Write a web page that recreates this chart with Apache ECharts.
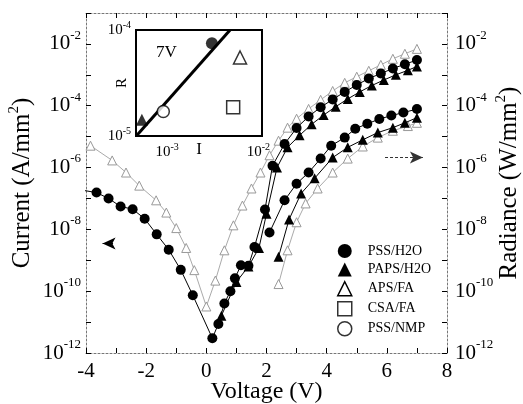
<!DOCTYPE html>
<html><head><meta charset="utf-8">
<script src="https://cdn.jsdelivr.net/npm/echarts@6/dist/echarts.min.js"></script>
<style>html,body{margin:0;padding:0;background:#fff}#c{width:523px;height:404px}</style>
</head><body><div id="c"></div>
<script>
const F = "'Liberation Serif', 'Times New Roman', serif";

// Current (A/mm^2), left axis
const pssCurV  = [-4.05,-3.65,-3.25,-2.85,-2.45,-2.05,-1.65,-1.25,-0.85,-0.45,0.2,0.4,0.6,0.8,0.95,1.15,1.4,1.6,1.95,2.2,2.6,3.0,3.4,3.8,4.2,4.6,5.0,5.4,5.8,6.2,6.6,7.0];
const pssCurJ  = [1.8e-7,1.55e-7,1.0e-7,5.5e-8,4.5e-8,2.2e-8,6.9e-9,2.2e-9,4.9e-10,7.4e-11,3.0e-12,8.7e-12,4.0e-11,1.0e-10,2.6e-10,6.9e-10,6.6e-10,2.7e-9,4.4e-8,1.15e-6,5.8e-6,1.9e-5,4.5e-5,8.9e-5,1.6e-4,2.8e-4,4.7e-4,7.6e-4,1.1e-3,1.6e-3,2.2e-3,3.0e-3];
const papsCurV = [0.5,1.0,1.4,1.75,2.0,2.35,2.7,3.1,3.5,3.9,4.3,4.7,5.1,5.5,5.9,6.3,6.7,7.0];
const papsCurJ = [1.6e-11,2.0e-10,6.3e-10,2.5e-9,3.2e-8,1.0e-6,4.5e-6,1.1e-5,2.5e-5,5.0e-5,9.3e-5,1.66e-4,2.8e-4,4.5e-4,6.8e-4,1.0e-3,1.4e-3,1.86e-3];
const apsCurV  = [-3.85,-3.13,-2.67,-2.23,-1.67,-1.33,-1.0,-0.67,-0.4,0.0,0.3,0.6,0.9,1.2,1.5,1.8,2.1,2.4,2.7,3.0,3.4,3.8,4.2,4.6,5.0,5.4,5.8,6.2,6.6,7.0];
const apsCurJ  = [5.1e-6,1.7e-6,6.9e-7,2.6e-7,8.7e-8,3.5e-8,1.1e-8,2.5e-9,4.8e-10,3.2e-11,2.2e-10,2.1e-9,1.35e-8,5.9e-8,2.1e-7,6.9e-7,2.5e-6,7.4e-6,1.95e-5,3.8e-5,7.9e-5,1.55e-4,3.0e-4,5.5e-4,8.7e-4,1.35e-3,2.1e-3,3.3e-3,4.8e-3,6.9e-3];

// Radiance (W/mm^2), right axis
const pssRadV  = [2.1,2.6,3.0,3.4,3.8,4.15,4.6,4.95,5.35,5.75,6.15,6.55,7.0];
const pssRadL  = [7.9e-9,8.7e-8,3.0e-7,6.9e-7,1.95e-6,5.1e-6,9.3e-6,1.8e-5,2.6e-5,3.7e-5,4.8e-5,6.0e-5,7.8e-5];
const papsRadV = [2.4,2.75,3.15,3.6,4.2,4.7,5.2,5.7,6.2,6.6,7.0];
const papsRadL = [1.3e-9,2.1e-8,1.45e-7,4.5e-7,2.1e-6,4.5e-6,7.9e-6,1.35e-5,1.95e-5,2.8e-5,4.1e-5];
const apsRadV  = [2.4,2.7,3.0,3.3,3.7,4.2,4.7,5.2,5.7,6.2,6.7,7.0];
const apsRadL  = [1.7e-10,2.1e-9,1.7e-8,6.9e-8,2.1e-7,6.9e-7,1.95e-6,4.8e-6,9.3e-6,1.55e-5,2.2e-5,2.8e-5];

// Inset: R vs I at 7 V
const insetNames = ['PSS/H2O','PAPS/H2O','APS/FA','CSA/FA','PSS/NMP'];
const insetI = [3.1e-3,5.3e-4,6.3e-3,5.3e-3,9.1e-4];
const insetR = [7.5e-5,1.42e-5,5.5e-5,1.87e-5,1.7e-5];
const fitI = [4.6e-4,4.9e-3];
const fitR = [1e-5,1e-4];

// Tick labels
const voltTicks = [-4,-2,0,2,4,6,8];
const mainExpLabels = [-12,-10,-8,-6,-4,-2];
const insetXExpLabels = [-3,-2];
const insetYExpLabels = [-5,-4];

// Annotation arrows (data coordinates)
const curArrowV = [-3.45,-3.1], curArrowY = 3.5e-9;
const radArrowV = [5.94,7.2], radArrowY = 2.1e-6;

const zip = (a,b)=>a.map((v,i)=>[v,b[i]]);
function expFmt(list){
  return function(v){
    const l = Math.log10(v), e = Math.round(l);
    if (Math.abs(l-e) > 0.01 || list.indexOf(e) < 0) return '';
    return '{b|10}{s|' + e + '}';
  };
}
function rich(big, small, lh){
  return {
    b:{fontFamily:F, fontSize:big, color:'#000', lineHeight:lh},
    s:{fontFamily:F, fontSize:small, color:'#000', verticalAlign:'top', lineHeight:small}
  };
}
const frame = {show:true, onZero:false, lineStyle:{color:'#777', width:1, type:[2,2]}};
const frameInset = {show:true, onZero:false, lineStyle:{color:'#000', width:2}};
const tickIn = {show:true, inside:true, length:5, lineStyle:{color:'#000', width:1}};
const nameRich = {a:{fontFamily:F, fontSize:25, color:'#000', lineHeight:30}, s:{fontFamily:F, fontSize:15, color:'#000', verticalAlign:'top', lineHeight:15}};

const opt = {
  animation:false,
  backgroundColor:'#fff',
  textStyle:{fontFamily:F},
  grid:[
    {left:86, top:13, width:361, height:340, outerBoundsMode:'none'},
    {left:136, top:30, width:126, height:106, show:true, backgroundColor:'#fff', borderColor:'#000', borderWidth:2, z:3, outerBoundsMode:'none'}
  ],
  title:{text:'7V', left:151, top:39, textStyle:{fontFamily:F, fontSize:17, fontWeight:'normal', color:'#000'}},
  legend:{
    orient:'vertical', left:332, top:239, itemWidth:14, itemHeight:14, itemGap:4.5,
    textStyle:{fontFamily:F, fontSize:14, color:'#000', padding:[0,0,0,11]},
    data:[
      {name:'PSS/H2O', icon:'circle', itemStyle:{color:'#000'}},
      {name:'PAPS/H2O', icon:'triangle', itemStyle:{color:'#000'}},
      {name:'APS/FA', icon:'triangle', itemStyle:{color:'#fff', borderColor:'#000', borderWidth:1.5}},
      {name:'CSA/FA', icon:'rect', itemStyle:{color:'#fff', borderColor:'#000', borderWidth:1.5}},
      {name:'PSS/NMP', icon:'circle', itemStyle:{color:'#fff', borderColor:'#000', borderWidth:1.5}}
    ]
  },
  xAxis:[
    {gridIndex:0, type:'value', min:voltTicks[0], max:voltTicks[voltTicks.length-1], interval:2,
     axisLine:frame, axisTick:tickIn, minorTick:{show:true, splitNumber:2, length:5, lineStyle:{color:'#000'}},
     splitLine:{show:false},
     axisLabel:{fontFamily:F, fontSize:21, color:'#000', margin:8},
     name:'Voltage (V)', nameLocation:'middle', nameGap:27, nameMoveOverlap:false,
     nameTextStyle:{fontFamily:F, fontSize:24, color:'#000'}},
    {gridIndex:0, type:'value', position:'top', min:-4, max:8, interval:2,
     axisLine:frame, axisTick:tickIn, minorTick:{show:true, splitNumber:2, length:5, lineStyle:{color:'#000'}},
     splitLine:{show:false}, axisLabel:{show:false}},
    {gridIndex:1, type:'log', min:Math.pow(10,-3.34), max:Math.pow(10,-1.96),
     axisLine:frameInset, axisTick:{show:true, inside:true, length:5, lineStyle:{color:'#000', width:1.5}},
     minorTick:{show:true, length:3, lineStyle:{color:'#000'}}, splitLine:{show:false},
     axisLabel:{formatter:expFmt(insetXExpLabels), rich:rich(15,10,20), margin:6, showMinLabel:false, showMaxLabel:false},
     name:'I', nameLocation:'middle', nameGap:5, nameMoveOverlap:false,
     nameTextStyle:{fontFamily:F, fontSize:17, color:'#000'}},
    {gridIndex:1, type:'log', position:'top', min:Math.pow(10,-3.34), max:Math.pow(10,-1.96),
     axisLine:frameInset, axisTick:{show:true, inside:true, length:5, lineStyle:{color:'#000', width:1.5}},
     minorTick:{show:true, length:3, lineStyle:{color:'#000'}}, splitLine:{show:false}, axisLabel:{show:false}}
  ],
  yAxis:[
    {gridIndex:0, type:'log', min:1e-12, max:1e-1, interval:1, position:'left',
     axisLine:frame, axisTick:tickIn, splitLine:{show:false},
     axisLabel:{formatter:expFmt(mainExpLabels), rich:rich(21,13,30), margin:5, hideOverlap:false},
     name:'{a|Current (A/mm}{s|2}{a|)}', nameLocation:'middle', nameRotate:90, nameGap:49, nameMoveOverlap:false,
     nameTextStyle:{rich:nameRich}},
    {gridIndex:0, type:'log', min:1e-12, max:1e-1, interval:1, position:'right',
     axisLine:frame, axisTick:tickIn, splitLine:{show:false},
     axisLabel:{formatter:expFmt(mainExpLabels), rich:rich(21,13,30), margin:8, hideOverlap:false},
     name:'{a|Radiance (W/mm}{s|2}{a|)}', nameLocation:'middle', nameRotate:90, nameGap:47, nameMoveOverlap:false,
     nameTextStyle:{rich:nameRich}},
    {gridIndex:1, type:'log', min:1e-5, max:1e-4,
     axisLine:frameInset, axisTick:{show:true, inside:true, length:5, lineStyle:{color:'#000', width:1.5}},
     minorTick:{show:true, length:3, lineStyle:{color:'#000'}}, splitLine:{show:false},
     axisLabel:{formatter:expFmt(insetYExpLabels), rich:rich(15,10,20), margin:5},
     name:'R', nameLocation:'middle', nameRotate:90, nameGap:6, nameMoveOverlap:false,
     nameTextStyle:{fontFamily:F, fontSize:15, color:'#000'}},
    {gridIndex:1, type:'log', min:1e-5, max:1e-4, position:'right',
     axisLine:frameInset, axisTick:{show:true, inside:true, length:5, lineStyle:{color:'#000', width:1.5}},
     minorTick:{show:true, length:3, lineStyle:{color:'#000'}}, splitLine:{show:false}, axisLabel:{show:false}}
  ],
  series:[
    {name:'APS/FA', type:'line', xAxisIndex:0, yAxisIndex:0, data:zip(apsCurV,apsCurJ),
     symbol:'triangle', symbolSize:9, itemStyle:{color:'#fff', borderColor:'#999', borderWidth:1},
     lineStyle:{color:'#aaa', width:1}, z:1},
    {name:'APS/FA', type:'line', xAxisIndex:0, yAxisIndex:1, data:zip(apsRadV,apsRadL),
     symbol:'triangle', symbolSize:9, itemStyle:{color:'#fff', borderColor:'#999', borderWidth:1},
     lineStyle:{color:'#aaa', width:1}, z:1},
    {name:'PAPS/H2O', type:'line', xAxisIndex:0, yAxisIndex:0, data:zip(papsCurV,papsCurJ),
     symbol:'triangle', symbolSize:10, itemStyle:{color:'#000'}, lineStyle:{color:'#000', width:1}},
    {name:'PAPS/H2O', type:'line', xAxisIndex:0, yAxisIndex:1, data:zip(papsRadV,papsRadL),
     symbol:'triangle', symbolSize:10, itemStyle:{color:'#000'}, lineStyle:{color:'#000', width:1}},
    {name:'PSS/H2O', type:'line', xAxisIndex:0, yAxisIndex:0, data:zip(pssCurV,pssCurJ),
     symbol:'circle', symbolSize:10, itemStyle:{color:'#000'}, lineStyle:{color:'#000', width:1},
     markLine:{silent:true, symbol:['arrow','none'], symbolSize:[9,13], label:{show:false},
       lineStyle:{color:'#000', width:1, type:'solid'},
       data:[[{coord:[curArrowV[0],curArrowY]},{coord:[curArrowV[1],curArrowY]}]]}},
    {name:'PSS/H2O', type:'line', xAxisIndex:0, yAxisIndex:1, data:zip(pssRadV,pssRadL),
     symbol:'circle', symbolSize:10, itemStyle:{color:'#000'}, lineStyle:{color:'#000', width:1},
     markLine:{silent:true, symbol:['none','arrow'], symbolSize:[9,13], label:{show:false},
       lineStyle:{color:'#333', width:1, type:[3,2]},
       data:[[{coord:[radArrowV[0],radArrowY]},{coord:[radArrowV[1],radArrowY]}]]}},
    {name:'fit', type:'line', xAxisIndex:2, yAxisIndex:2, data:zip(fitI,fitR), showSymbol:false,
     lineStyle:{color:'#000', width:3}, z:5, silent:true},
    {name:insetNames[0], type:'scatter', xAxisIndex:2, yAxisIndex:2, data:[[insetI[0],insetR[0]]],
     symbol:'circle', symbolSize:12, itemStyle:{color:'#000'}, z:6},
    {name:insetNames[1], type:'scatter', xAxisIndex:2, yAxisIndex:2, data:[[insetI[1],insetR[1]]],
     symbol:'triangle', symbolSize:12, itemStyle:{color:'#000'}, z:6},
    {name:insetNames[2], type:'scatter', xAxisIndex:2, yAxisIndex:2, data:[[insetI[2],insetR[2]]],
     symbol:'triangle', symbolSize:13, itemStyle:{color:'#fff', borderColor:'#000', borderWidth:1.5}, z:6},
    {name:insetNames[3], type:'scatter', xAxisIndex:2, yAxisIndex:2, data:[[insetI[3],insetR[3]]],
     symbol:'rect', symbolSize:13, itemStyle:{color:'#fff', borderColor:'#000', borderWidth:1.5}, z:6},
    {name:insetNames[4], type:'scatter', xAxisIndex:2, yAxisIndex:2, data:[[insetI[4],insetR[4]]],
     symbol:'circle', symbolSize:12, itemStyle:{color:'#fff', borderColor:'#000', borderWidth:1.5}, z:6}
  ]
};
const chart = echarts.init(document.getElementById('c'), null, {renderer:'canvas'});
chart.setOption(opt);
</script>
</body></html>
